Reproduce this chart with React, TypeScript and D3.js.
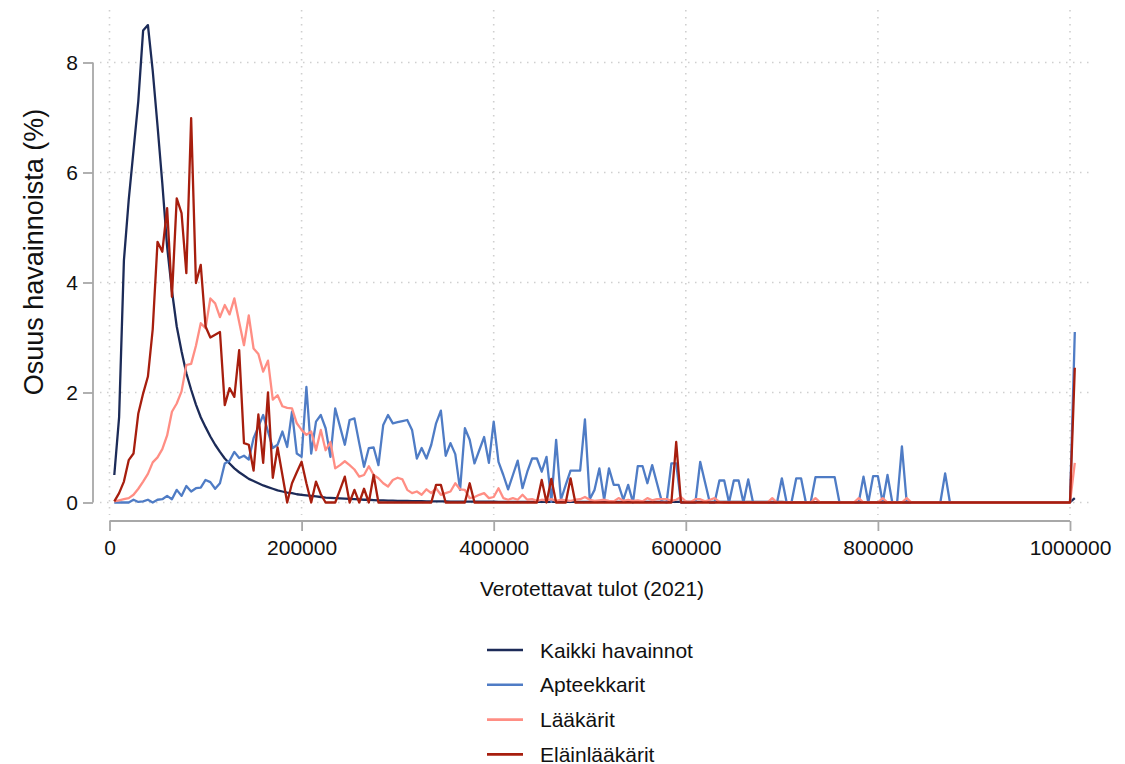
import React, { useEffect, useRef } from "react";
import * as d3 from "d3";

// income bins: 5000, 10000, ..., 1005000 (last bin = over 1 000 000)
const binStart = 5000;
const binStep = 5000;

const kaikki = [
  0.5, 1.55, 4.4, 5.5, 6.4, 7.3, 8.58, 8.68, 7.85, 6.85,
  5.8, 4.65, 3.85, 3.2, 2.75, 2.35, 2.05, 1.78, 1.55, 1.37,
  1.2, 1.05, 0.92, 0.8, 0.71, 0.62, 0.55, 0.49, 0.43, 0.39,
  0.35, 0.31, 0.28, 0.25, 0.22, 0.2, 0.18, 0.17, 0.15, 0.14,
  0.13, 0.12, 0.11, 0.1, 0.09, 0.085, 0.08, 0.075, 0.07, 0.065,
  0.06, 0.055, 0.05, 0.05, 0.045, 0.04, 0.04, 0.035, 0.035, 0.03,
  0.03, 0.03, 0.025, 0.025, 0.025, 0.02, 0.02, 0.02, 0.02, 0.02,
  0.015, 0.015, 0.015, 0.015, 0.015, 0.015, 0.015, 0.015, 0.015, 0.015,
  0.01, 0.01, 0.01, 0.01, 0.01, 0.01, 0.01, 0.01, 0.01, 0.01,
  0.01, 0.01, 0.01, 0.01, 0.01, 0.01, 0.01, 0.01, 0.01, 0.01,
  0.01, 0.01, 0.01, 0.01, 0.01, 0.01, 0.01, 0.01, 0.01, 0.01,
  0.01, 0.01, 0.01, 0.01, 0.01, 0.01, 0.01, 0.01, 0.01, 0.01,
  0.01, 0.01, 0.01, 0.01, 0.01, 0.01, 0.01, 0.01, 0.01, 0.01,
  0.01, 0.01, 0.01, 0.01, 0.01, 0.01, 0.01, 0.01, 0.01, 0.01,
  0.005, 0.005, 0.005, 0.005, 0.005, 0.005, 0.005, 0.005, 0.005, 0.005,
  0.005, 0.005, 0.005, 0.005, 0.005, 0.005, 0.005, 0.005, 0.005, 0.005,
  0.005, 0.005, 0.005, 0.005, 0.005, 0.005, 0.005, 0.005, 0.005, 0.005,
  0.005, 0.005, 0.005, 0.005, 0.005, 0.005, 0.005, 0.005, 0.005, 0.005,
  0.005, 0.005, 0.005, 0.005, 0.005, 0.005, 0.005, 0.005, 0.005, 0.005,
  0.005, 0.005, 0.005, 0.005, 0.005, 0.005, 0.005, 0.005, 0.005, 0.005,
  0.08,
];

const apteekkarit = [
  0, 0, 0, 0, 0.05, 0.01, 0.02, 0.05, 0, 0.05,
  0.06, 0.12, 0.06, 0.23, 0.12, 0.3, 0.2, 0.26, 0.27, 0.41,
  0.37, 0.25, 0.35, 0.71, 0.76, 0.92, 0.81, 0.85, 0.78, 1.17,
  1.38, 1.59, 1.29, 0.99, 1.05, 1.29, 1.01, 1.65, 0.89, 0.83,
  2.1, 0.89, 1.47, 1.59, 1.35, 0.83, 1.71, 1.38, 1.05, 1.5,
  1.53, 1.08, 0.65, 0.99, 1.0, 0.68, 1.41, 1.59, 1.44, 1.46,
  1.48, 1.5, 1.32, 0.8, 0.99, 0.8, 1.05, 1.44, 1.67, 0.85,
  1.08, 0.88, 0.23, 1.35, 1.14, 0.71, 0.95, 1.19, 0.72, 1.47,
  0.74, 0.5, 0.24, 0.5, 0.76, 0.26, 0.56, 0.8, 0.8, 0.56,
  0.83, 0.01, 1.14, 0.05, 0.32, 0.58, 0.58, 0.58, 1.51, 0.06,
  0.23, 0.62, 0.05, 0.62, 0.32, 0.32, 0.05, 0.32, 0, 0.66,
  0.66, 0.35, 0.68, 0.35, 0.02, 0, 0.71, 0.71, 0, 0,
  0, 0, 0.74, 0.37, 0, 0, 0.4, 0.4, 0, 0.4,
  0.4, 0, 0.42, 0, 0, 0, 0, 0, 0, 0.44,
  0, 0, 0.44, 0.44, 0, 0, 0.46, 0.46, 0.46, 0.46,
  0.46, 0, 0, 0, 0, 0, 0.47, 0, 0.48, 0.48,
  0, 0.5, 0, 0, 1.02, 0, 0, 0, 0, 0,
  0, 0, 0, 0.53, 0, 0, 0, 0, 0, 0,
  0, 0, 0, 0, 0, 0, 0, 0, 0, 0,
  0, 0, 0, 0, 0, 0, 0, 0, 0, 0,
  3.1,
];

const laakarit = [
  0.02, 0.04, 0.06, 0.08, 0.14, 0.25, 0.38, 0.52, 0.73, 0.82,
  0.97, 1.22, 1.65, 1.8, 2.02, 2.5, 2.52, 2.85, 3.26, 3.17,
  3.71, 3.62, 3.37, 3.59, 3.42, 3.71, 3.28, 2.86, 3.4, 2.8,
  2.7, 2.38, 2.58, 1.87, 1.95, 1.75, 1.72, 1.71, 1.44, 1.32,
  1.23, 1.29, 0.95, 1.32, 0.95, 1.1, 0.62, 0.68, 0.75, 0.68,
  0.6, 0.47, 0.5, 0.66, 0.5, 0.44, 0.35, 0.29, 0.41, 0.45,
  0.42, 0.23, 0.17, 0.2, 0.14, 0.24, 0.17, 0.26, 0.14, 0.17,
  0.2, 0.35, 0.24, 0.23, 0.08, 0.1, 0.14, 0.17, 0.08, 0.1,
  0.26, 0.08, 0.05, 0.08, 0.05, 0.14, 0.05, 0.06, 0.03, 0.05,
  0.04, 0.06, 0.03, 0.05, 0.04, 0.03, 0.05, 0.06, 0.1, 0.05,
  0.03, 0.04, 0.05, 0.03, 0.02, 0.08, 0.03, 0.05, 0.03, 0.04,
  0.02, 0.08, 0.04, 0.06, 0.06, 0.06, 0.03, 0.05, 0.1, 0.02,
  0.01, 0.06, 0.06, 0.02, 0.05, 0.08, 0.01, 0, 0, 0,
  0, 0, 0, 0, 0, 0, 0, 0.08, 0, 0,
  0, 0, 0, 0, 0, 0, 0.08, 0, 0, 0,
  0, 0, 0, 0, 0, 0.08, 0, 0, 0, 0,
  0.08, 0, 0, 0, 0, 0.08, 0, 0, 0, 0,
  0, 0, 0, 0, 0, 0, 0, 0, 0, 0,
  0, 0, 0, 0, 0, 0, 0, 0, 0, 0,
  0, 0, 0, 0, 0, 0, 0, 0, 0, 0,
  0.72,
];

const elainlaakarit = [
  0.02, 0.17, 0.38, 0.77, 0.89, 1.62, 1.98, 2.29, 3.15, 4.74,
  4.56, 5.35, 3.74, 5.53, 5.26, 4.17, 6.99, 3.99, 4.32, 3.2,
  3.0, 3.05, 3.1, 1.77, 2.08, 1.92, 2.77, 1.08, 1.05, 0.58,
  1.6, 0.72, 2.0, 0.45, 1.0, 0.5, 0, 0.35, 0.55, 0.74,
  0.35, 0, 0.38, 0.15, 0, 0, 0, 0.23, 0.47, 0,
  0.23, 0, 0.25, 0, 0.5, 0, 0, 0, 0, 0,
  0, 0, 0, 0, 0, 0, 0, 0.32, 0.32, 0,
  0, 0, 0, 0, 0.35, 0, 0, 0, 0, 0,
  0, 0, 0, 0, 0, 0, 0, 0, 0, 0.41,
  0, 0.43, 0, 0, 0, 0.44, 0, 0, 0, 0,
  0, 0, 0, 0, 0, 0, 0, 0, 0, 0,
  0, 0, 0, 0, 0, 0, 0, 1.1, 0, 0,
  0, 0, 0, 0, 0, 0, 0, 0, 0, 0,
  0, 0, 0, 0, 0, 0, 0, 0, 0, 0,
  0, 0, 0, 0, 0, 0, 0, 0, 0, 0,
  0, 0, 0, 0, 0, 0, 0, 0, 0, 0,
  0, 0, 0, 0, 0, 0, 0, 0, 0, 0,
  0, 0, 0, 0, 0, 0, 0, 0, 0, 0,
  0, 0, 0, 0, 0, 0, 0, 0, 0, 0,
  0, 0, 0, 0, 0, 0, 0, 0, 0, 0,
  2.45,
];

const seriesNames = ["Kaikki havainnot", "Apteekkarit", "Lääkärit", "Eläinlääkärit"];
const seriesColors = ["#1c2b58", "#4f7cc5", "#ff8e84", "#a71e0e"];
const seriesValues = [kaikki, apteekkarit, laakarit, elainlaakarit];

const xTicks = [0, 200000, 400000, 600000, 800000, 1000000];
const yTicks = [0, 2, 4, 6, 8];

const FONT = "'Liberation Sans', Arial, Helvetica, sans-serif";

const App = () => {
  const svgRef = useRef(null);

  const chartConfig = {
    width: 1125,
    height: 764,
  };

  useEffect(() => {
    const svg = d3.select(svgRef.current);
    svg.selectAll("*").remove();

    const x = d3.scaleLinear().domain([0, 1000000]).range([109.5, 1070]);
    const y = d3.scaleLinear().domain([0, 8]).range([502.5, 62.5]);

    const gridColor = "#cfcfcf";
    const axisColor = "#a8a8a8";

    // dotted grid
    const grid = svg.append("g");
    grid
      .selectAll(".vgrid")
      .data(xTicks)
      .join("line")
      .attr("x1", (d) => x(d))
      .attr("x2", (d) => x(d))
      .attr("y1", 10)
      .attr("y2", 515)
      .attr("stroke", gridColor)
      .attr("stroke-width", 1.6)
      .attr("stroke-dasharray", "1.5,5.5");
    grid
      .selectAll(".hgrid")
      .data(yTicks)
      .join("line")
      .attr("x1", 100)
      .attr("x2", 1091)
      .attr("y1", (d) => y(d))
      .attr("y2", (d) => y(d))
      .attr("stroke", gridColor)
      .attr("stroke-width", 1.6)
      .attr("stroke-dasharray", "1.5,5.5");

    // y axis
    const gy = svg.append("g").attr("transform", "translate(93,0)");
    gy.call(d3.axisLeft(y).tickValues(yTicks).tickSize(10).tickPadding(5));
    gy.select(".domain").attr("stroke", axisColor).attr("stroke-width", 1.8)
      .attr("d", `M0,${y(0)}V${y(8)}`);
    gy.selectAll(".tick line").attr("stroke", axisColor).attr("stroke-width", 1.8);
    gy.selectAll(".tick text")
      .attr("font-family", FONT)
      .attr("font-size", 21)
      .attr("fill", "#111");

    // x axis
    const gx = svg.append("g").attr("transform", "translate(0,521)");
    gx.call(
      d3.axisBottom(x).tickValues(xTicks).tickSize(10).tickPadding(9).tickFormat(d3.format("d"))
    );
    gx.select(".domain").attr("stroke", axisColor).attr("stroke-width", 1.8)
      .attr("d", `M${x(0)},0H${x(1000000)}`);
    gx.selectAll(".tick line").attr("stroke", axisColor).attr("stroke-width", 1.8);
    gx.selectAll(".tick text")
      .attr("font-family", FONT)
      .attr("font-size", 21)
      .attr("fill", "#111");

    // axis titles
    svg
      .append("text")
      .attr("x", 592)
      .attr("y", 596)
      .attr("text-anchor", "middle")
      .attr("font-family", FONT)
      .attr("font-size", 21)
      .attr("fill", "#111")
      .text("Verotettavat tulot (2021)");

    svg
      .append("text")
      .attr("transform", "translate(43,252) rotate(-90)")
      .attr("text-anchor", "middle")
      .attr("font-family", FONT)
      .attr("font-size", 27)
      .attr("fill", "#111")
      .text("Osuus havainnoista (%)");

    // lines
    const line = d3
      .line()
      .x((d, i) => x(binStart + i * binStep))
      .y((d) => y(d));

    svg
      .append("g")
      .selectAll(".series")
      .data(seriesValues)
      .join("path")
      .attr("class", "series")
      .attr("d", (d) => line(d))
      .attr("fill", "none")
      .attr("stroke", (d, i) => seriesColors[i])
      .attr("stroke-width", 2.3)
      .attr("stroke-linejoin", "round");

    // legend
    const legend = svg
      .append("g")
      .selectAll(".legend-item")
      .data(seriesNames)
      .join("g")
      .attr("class", "legend-item")
      .attr("transform", (d, i) => `translate(0,${650 + i * 34.8})`);

    legend
      .append("line")
      .attr("x1", 487)
      .attr("x2", 523)
      .attr("y1", 0)
      .attr("y2", 0)
      .attr("stroke", (d, i) => seriesColors[i])
      .attr("stroke-width", 2.6);

    legend
      .append("text")
      .attr("x", 540)
      .attr("y", 7.5)
      .attr("font-family", FONT)
      .attr("font-size", 21)
      .attr("fill", "#111")
      .text((d) => d);
  }, []);

  return (
    <div>
      <style>{`body { margin: 0; background: #fff; }`}</style>
      <svg
        ref={svgRef}
        width={chartConfig.width}
        height={chartConfig.height}
        style={{ display: "block", background: "#fff" }}
      ></svg>
    </div>
  );
};

export default App;
